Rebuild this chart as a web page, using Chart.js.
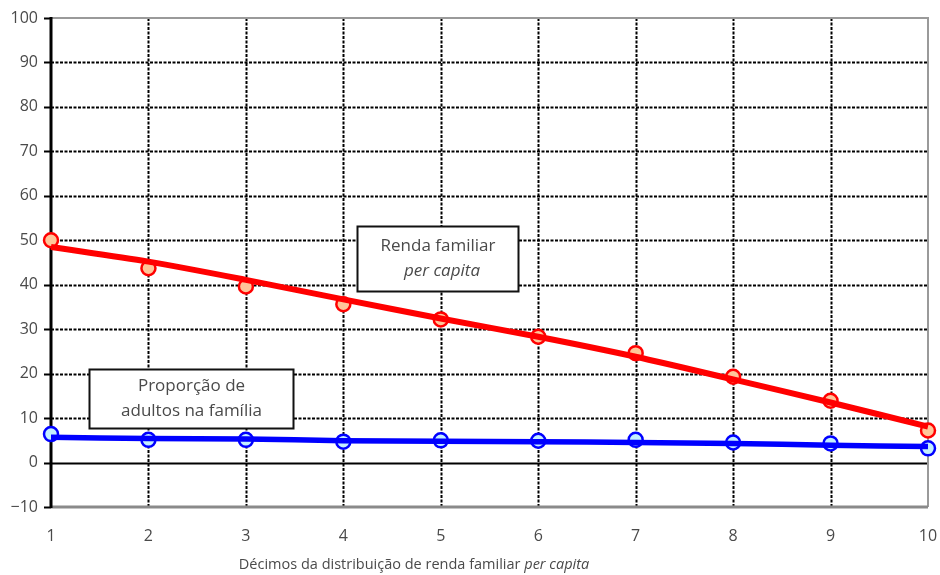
<!DOCTYPE html>
<html>
<head>
<meta charset="utf-8">
<script src="https://cdn.jsdelivr.net/npm/chart.js@4"></script>
<style>
  html, body { margin: 0; padding: 0; background: #fff; }
  #wrap { width: 940px; height: 575px; position: relative; }
</style>
</head>
<body>
<div id="wrap"><canvas id="c" width="940" height="575"></canvas></div>
<script>
// values
var decimos = [1, 2, 3, 4, 5, 6, 7, 8, 9, 10];
var renda   = [50.0, 43.7, 39.6, 35.6, 32.2, 28.3, 24.6, 19.3, 13.9, 7.2];
var adultos = [6.4, 5.1, 5.1, 4.7, 5.0, 4.9, 5.1, 4.5, 4.3, 3.2];
// fitted curves drawn over the points
var rendaAjuste   = [48.5, 45.2, 41.1, 36.7, 32.4, 28.3, 23.8, 18.7, 13.5, 8.1];
var adultosAjuste = [5.7, 5.4, 5.3, 4.9, 4.8, 4.7, 4.5, 4.3, 3.9, 3.6];
var yTicks = [-10, 0, 10, 20, 30, 40, 50, 60, 70, 80, 90, 100];

var FONT = "'Open Sans', 'DejaVu Sans', sans-serif";
var txt = '#4a4a4a';

function pts(xs, ys) {
  return xs.map(function (x, i) { return { x: x, y: ys[i] }; });
}

// grid, frame, boxes and axis title
var decor = {
  id: 'decor',
  beforeDatasetsDraw: function (chart) {
    var ctx = chart.ctx, a = chart.chartArea;
    var xs = chart.scales.x, ys = chart.scales.y;
    ctx.save();
    ctx.strokeStyle = '#000';
    ctx.lineWidth = 2;
    ctx.setLineDash([3, 1.5]);
    decimos.forEach(function (d) {
      if (d === decimos[0] || d === decimos[decimos.length - 1]) return;
      var px = Math.round(xs.getPixelForValue(d)) + 0.5;
      ctx.beginPath(); ctx.moveTo(px, a.top); ctx.lineTo(px, a.bottom); ctx.stroke();
    });
    yTicks.forEach(function (v) {
      if (v === 0 || v === yTicks[0] || v === yTicks[yTicks.length - 1]) return;
      var py = Math.round(ys.getPixelForValue(v)) + 0.5;
      ctx.beginPath(); ctx.moveTo(a.left, py); ctx.lineTo(a.right, py); ctx.stroke();
    });
    ctx.setLineDash([]);
    // zero line
    var p0 = Math.round(ys.getPixelForValue(0)) + 0.5;
    ctx.beginPath(); ctx.moveTo(a.left, p0); ctx.lineTo(a.right, p0); ctx.stroke();
    // gray frame top / right / bottom
    ctx.strokeStyle = '#9a9a9a';
    ctx.lineWidth = 2;
    ctx.beginPath(); ctx.moveTo(a.left, a.top); ctx.lineTo(a.right, a.top); ctx.lineTo(a.right, a.bottom); ctx.stroke();
    ctx.strokeStyle = '#8a8a8a';
    ctx.lineWidth = 3;
    ctx.beginPath(); ctx.moveTo(a.left, a.bottom); ctx.lineTo(a.right, a.bottom); ctx.stroke();
    // left axis with ticks
    ctx.strokeStyle = '#000';
    ctx.lineWidth = 3;
    ctx.beginPath(); ctx.moveTo(a.left, a.top - 1); ctx.lineTo(a.left, a.bottom + 1); ctx.stroke();
    ctx.lineWidth = 2;
    yTicks.forEach(function (v) {
      var py = Math.round(ys.getPixelForValue(v)) + 0.5;
      ctx.beginPath(); ctx.moveTo(a.left - 7, py); ctx.lineTo(a.left, py); ctx.stroke();
    });
    ctx.restore();
  },
  afterDatasetsDraw: function (chart) {
    var ctx = chart.ctx;
    var xs = chart.scales.x, ys = chart.scales.y;
    function box(cx, cy, w, h, lines) {
      var x = Math.round(xs.getPixelForValue(cx) - w / 2) + 0.5;
      var y = Math.round(ys.getPixelForValue(cy) - h / 2) + 0.5;
      ctx.fillStyle = '#fff';
      ctx.fillRect(x, y, w, h);
      ctx.strokeStyle = '#111';
      ctx.lineWidth = 2;
      ctx.strokeRect(x, y, w, h);
      ctx.fillStyle = txt;
      ctx.textAlign = 'center';
      ctx.textBaseline = 'middle';
      lines.forEach(function (l, i) {
        ctx.font = (l.italic ? 'italic ' : '') + '17px ' + FONT;
        ctx.fillText(l.t, x + w / 2 + (l.dx || 0), y + h / 2 + (i - (lines.length - 1) / 2) * 25);
      });
    }
    ctx.save();
    box(4.97, 45.9, 161, 65, [{ t: 'Renda familiar' }, { t: 'per capita', italic: true, dx: 4 }]);
    box(2.44, 14.4, 204, 59, [{ t: 'Proporção de' }, { t: 'adultos na família' }]);
    // x axis title with italic part
    var t1 = 'Décimos da distribuição de renda familiar ', t2 = 'per capita';
    ctx.font = '14.5px ' + FONT;
    var w1 = ctx.measureText(t1).width;
    ctx.font = 'italic 14.5px ' + FONT;
    var w2 = ctx.measureText(t2).width;
    var sx = 414 - (w1 + w2) / 2;
    ctx.textAlign = 'left';
    ctx.textBaseline = 'middle';
    ctx.fillStyle = txt;
    ctx.font = '14.5px ' + FONT;
    ctx.fillText(t1, sx, 565);
    ctx.font = 'italic 14.5px ' + FONT;
    ctx.fillText(t2, sx + w1, 565);
    ctx.restore();
  }
};

new Chart(document.getElementById('c'), {
  type: 'scatter',
  data: {
    datasets: [
      {
        label: 'Renda familiar per capita',
        data: pts(decimos, renda),
        showLine: false,
        pointRadius: 7,
        pointBorderWidth: 2.5,
        pointBackgroundColor: '#ffc699',
        pointBorderColor: '#ff0000',
        order: 2
      },
      {
        label: 'Proporção de adultos na família',
        data: pts(decimos, adultos),
        showLine: false,
        pointRadius: 7,
        pointBorderWidth: 2.5,
        pointBackgroundColor: '#c4efff',
        pointBorderColor: '#0000ff',
        order: 2
      },
      {
        label: 'ajuste renda',
        data: pts(decimos, rendaAjuste),
        showLine: true,
        borderColor: '#ff0000',
        borderWidth: 6,
        pointRadius: 0,
        tension: 0.3,
        order: 1
      },
      {
        label: 'ajuste adultos',
        data: pts(decimos, adultosAjuste),
        showLine: true,
        borderColor: '#0000ff',
        borderWidth: 5.5,
        pointRadius: 0,
        tension: 0.3,
        order: 1
      }
    ]
  },
  options: {
    responsive: false,
    animation: false,
    clip: false,
    layout: { padding: { top: 18, right: 12, bottom: 0, left: 0 } },
    plugins: { legend: { display: false }, tooltip: { enabled: false } },
    scales: {
      x: {
        type: 'linear', min: 1, max: 10,
        afterBuildTicks: function (s) { s.ticks = decimos.map(function (v) { return { value: v }; }); },
        grid: { display: false },
        border: { display: false },
        ticks: { color: txt, font: { family: FONT, size: 16 }, padding: 12, maxRotation: 0 },
        afterFit: function (s) { s.height = 68; s.paddingLeft = 0; s.paddingRight = 0; }
      },
      y: {
        type: 'linear', min: -10, max: 100,
        afterBuildTicks: function (s) { s.ticks = yTicks.map(function (v) { return { value: v }; }); },
        grid: { display: false },
        border: { display: false },
        ticks: {
          color: txt, font: { family: FONT, size: 16 }, padding: 5,
          callback: function (v) { return v < 0 ? '\u2212' + Math.abs(v) : String(v); }
        },
        afterFit: function (s) { s.width = 51; s.paddingTop = 0; s.paddingBottom = 0; }
      }
    }
  },
  plugins: [decor]
});
</script>
</body>
</html>
